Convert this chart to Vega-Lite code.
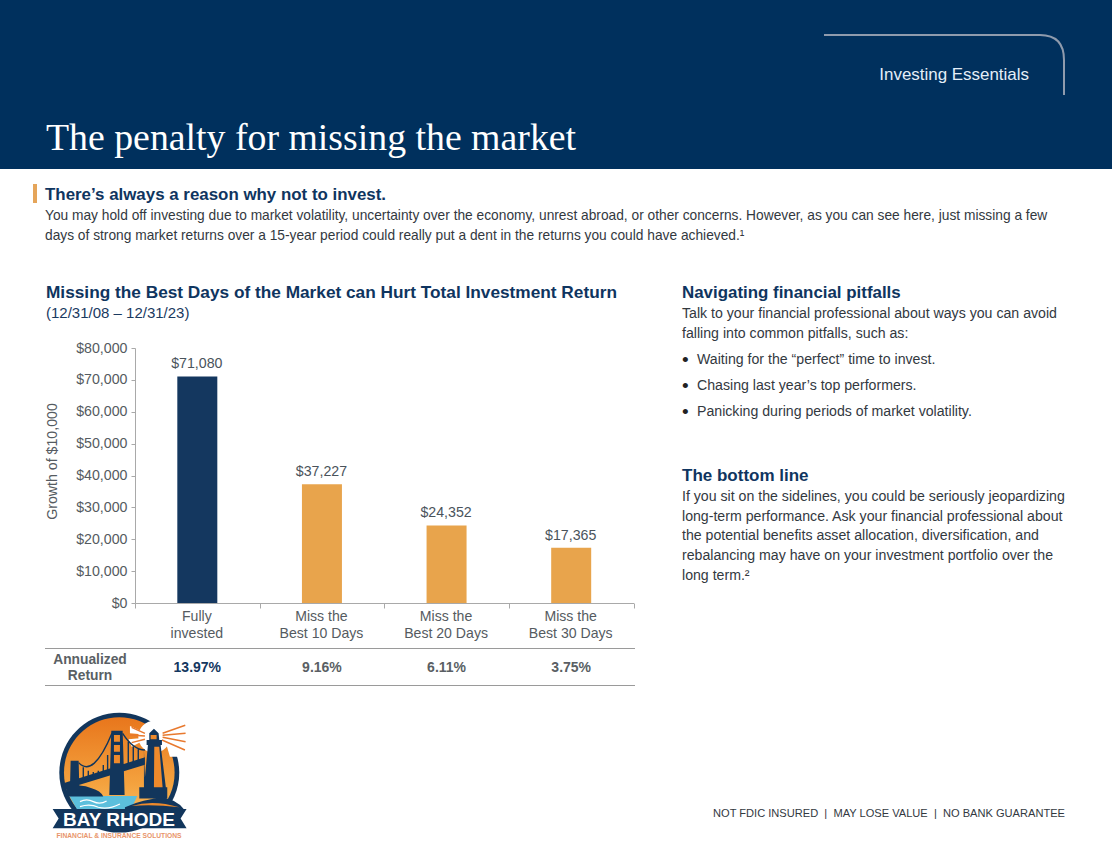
{"$schema":"https://vega.github.io/schema/vega-lite/v6.json","width":1112,"height":859,"autosize":{"type":"none"},"padding":0,"background":"#ffffff","config":{"view":{"stroke":null}},"data":{"values":[{"item":"page"}]},"resolve":{"scale":{"x":"independent","y":"independent","color":"independent"}},"layer":[
{"mark":{"type":"rect","fill":"#00305d"},"encoding":{"x":{"datum":0,"type":"quantitative","scale":{"domain":[0,1],"range":[0,1112]},"axis":null},"x2":{"datum":1},"y":{"datum":0,"type":"quantitative","scale":{"domain":[0,1],"range":[0,169]},"axis":null},"y2":{"datum":1}}},
{"mark":{"type":"point","shape":"M824,35 L1040,35 Q1064,35 1064,60 L1064,95","filled":false,"stroke":"#8f9bad","strokeWidth":2,"size":4,"opacity":1},"encoding":{"x":{"datum":0,"type":"quantitative","scale":{"domain":[0,1],"range":[0,1]},"axis":null},"y":{"datum":0,"type":"quantitative","scale":{"domain":[0,1],"range":[0,1]},"axis":null}}},
{"data":{"values":[{"line":0,"label":"The penalty for missing the market"}]},"mark":{"type":"text","align":"left","baseline":"alphabetic","font":"Liberation Serif","fontSize":37.8,"fill":"#ffffff"},"encoding":{"x":{"datum":0,"type":"quantitative","scale":{"domain":[0,1],"range":[46,47]},"axis":null},"y":{"field":"line","type":"quantitative","scale":{"domain":[0,1],"range":[150,170]},"axis":null},"text":{"field":"label"}}},
{"data":{"values":[{"line":0,"label":"Investing Essentials"}]},"mark":{"type":"text","align":"right","baseline":"alphabetic","font":"Liberation Sans","fontSize":16.95,"fill":"#e4eef8"},"encoding":{"x":{"datum":0,"type":"quantitative","scale":{"domain":[0,1],"range":[1029,1030]},"axis":null},"y":{"field":"line","type":"quantitative","scale":{"domain":[0,1],"range":[80,100]},"axis":null},"text":{"field":"label"}}},
{"mark":{"type":"rect","fill":"#e5a55a"},"encoding":{"x":{"datum":0,"type":"quantitative","scale":{"domain":[0,1],"range":[33,37]},"axis":null},"x2":{"datum":1},"y":{"datum":0,"type":"quantitative","scale":{"domain":[0,1],"range":[184,203]},"axis":null},"y2":{"datum":1}}},
{"data":{"values":[{"line":0,"label":"There’s always a reason why not to invest."}]},"mark":{"type":"text","align":"left","baseline":"alphabetic","font":"Liberation Sans","fontWeight":"bold","fontSize":16.9,"fill":"#0f3560"},"encoding":{"x":{"datum":0,"type":"quantitative","scale":{"domain":[0,1],"range":[45,46]},"axis":null},"y":{"field":"line","type":"quantitative","scale":{"domain":[0,1],"range":[200,220]},"axis":null},"text":{"field":"label"}}},
{"data":{"values":[{"line":0,"label":"You may hold off investing due to market volatility, uncertainty over the economy, unrest abroad, or other concerns. However, as you can see here, just missing a few"},{"line":1,"label":"days of strong market returns over a 15-year period could really put a dent in the returns you could have achieved.¹"}]},"mark":{"type":"text","align":"left","baseline":"alphabetic","font":"Liberation Sans","fontSize":13.75,"fill":"#33393f"},"encoding":{"x":{"datum":0,"type":"quantitative","scale":{"domain":[0,1],"range":[45,46]},"axis":null},"y":{"field":"line","type":"quantitative","scale":{"domain":[0,1],"range":[220,240]},"axis":null},"text":{"field":"label"}}},
{"data":{"values":[{"line":0,"label":"Missing the Best Days of the Market can Hurt Total Investment Return"}]},"mark":{"type":"text","align":"left","baseline":"alphabetic","font":"Liberation Sans","fontWeight":"bold","fontSize":17.25,"fill":"#0f3560"},"encoding":{"x":{"datum":0,"type":"quantitative","scale":{"domain":[0,1],"range":[46,47]},"axis":null},"y":{"field":"line","type":"quantitative","scale":{"domain":[0,1],"range":[298,318]},"axis":null},"text":{"field":"label"}}},
{"data":{"values":[{"line":0,"label":"(12/31/08 – 12/31/23)"}]},"mark":{"type":"text","align":"left","baseline":"alphabetic","font":"Liberation Sans","fontSize":15,"fill":"#1a3a5f"},"encoding":{"x":{"datum":0,"type":"quantitative","scale":{"domain":[0,1],"range":[46,47]},"axis":null},"y":{"field":"line","type":"quantitative","scale":{"domain":[0,1],"range":[318,338]},"axis":null},"text":{"field":"label"}}},
{"data":{"name":"growth","values":[{"category":"Fully|invested","group":"full","value":71080},{"category":"Miss the|Best 10 Days","group":"miss","value":37227},{"category":"Miss the|Best 20 Days","group":"miss","value":24352},{"category":"Miss the|Best 30 Days","group":"miss","value":17365}]},"mark":{"type":"bar","size":40},"encoding":{"x":{"field":"category","type":"nominal","sort":null,"scale":{"type":"band","range":[135,633.5],"paddingInner":0,"paddingOuter":0},"axis":{"orient":"bottom","offset":-256,"title":null,"labelAngle":0,"labelExpr":"split(datum.label,'|')","labelFont":"Liberation Sans","labelFontSize":14.1,"labelColor":"#555b61","labelLineHeight":17,"labelPadding":1,"labelOffset":-1,"domainColor":"#a9a9a9","tickColor":"#a9a9a9","tickSize":5,"tickBand":"extent","grid":false,"labelLimit":200}},"y":{"field":"value","type":"quantitative","scale":{"domain":[0,80000],"range":[603,348],"nice":false},"axis":{"orient":"left","offset":-135,"title":"Growth of $10,000","titleFont":"Liberation Sans","titleFontSize":14.2,"titleFontWeight":"normal","titleColor":"#555b61","titleX":-76,"titleY":461,"format":"$,.0f","values":[0,10000,20000,30000,40000,50000,60000,70000,80000],"labelFont":"Liberation Sans","labelFontSize":14.2,"labelColor":"#555b61","labelPadding":4,"domainColor":"#a9a9a9","tickColor":"#a9a9a9","tickSize":4,"grid":false}},"color":{"field":"group","type":"nominal","scale":{"domain":["full","miss"],"range":["#14375f","#e8a44c"]},"legend":null}}},
{"data":{"name":"growth"},"mark":{"type":"text","baseline":"alphabetic","dy":-8,"dx":-0.5,"font":"Liberation Sans","fontSize":14.2,"fill":"#4a535b"},"encoding":{"x":{"field":"category","type":"nominal","sort":null,"scale":{"type":"band","range":[135,633.5],"paddingInner":0,"paddingOuter":0},"axis":null},"y":{"field":"value","type":"quantitative","scale":{"domain":[0,80000],"range":[603,348],"nice":false},"axis":null},"text":{"field":"value","type":"quantitative","format":"$,.0f"}}},
{"data":{"values":[{"line":0},{"line":1}]},"mark":{"type":"rule","stroke":"#9a9a9a","strokeWidth":1},"encoding":{"x":{"datum":0,"type":"quantitative","scale":{"domain":[0,1],"range":[45,635]},"axis":null},"x2":{"datum":1},"y":{"field":"line","type":"quantitative","scale":{"domain":[0,1],"range":[648.5,685.5]},"axis":null}}},
{"data":{"values":[{"line":0,"label":"Annualized"},{"line":1,"label":"Return"}]},"mark":{"type":"text","align":"center","baseline":"alphabetic","font":"Liberation Sans","fontWeight":"bold","fontSize":13.8,"fill":"#5a5f64"},"encoding":{"x":{"datum":0,"type":"quantitative","scale":{"domain":[0,1],"range":[90,91]},"axis":null},"y":{"field":"line","type":"quantitative","scale":{"domain":[0,1],"range":[664,680]},"axis":null},"text":{"field":"label"}}},
{"data":{"values":[{"category":"Fully|invested","tone":"full","line":0,"annualized":"13.97%"},{"category":"Miss the|Best 10 Days","tone":"miss","line":0,"annualized":"9.16%"},{"category":"Miss the|Best 20 Days","tone":"miss","line":0,"annualized":"6.11%"},{"category":"Miss the|Best 30 Days","tone":"miss","line":0,"annualized":"3.75%"}]},"mark":{"type":"text","baseline":"alphabetic","font":"Liberation Sans","fontWeight":"bold","fontSize":14},"encoding":{"x":{"field":"category","type":"nominal","sort":null,"scale":{"type":"band","range":[135,633.5],"paddingInner":0,"paddingOuter":0},"axis":null},"y":{"field":"line","type":"quantitative","scale":{"domain":[0,1],"range":[672,692]},"axis":null},"text":{"field":"annualized"},"color":{"field":"tone","type":"nominal","scale":{"domain":["full","miss"],"range":["#14375f","#5a5f64"]},"legend":null}}},
{"data":{"values":[{"line":0,"label":"Navigating financial pitfalls"}]},"mark":{"type":"text","align":"left","baseline":"alphabetic","font":"Liberation Sans","fontWeight":"bold","fontSize":16.9,"fill":"#0f3560"},"encoding":{"x":{"datum":0,"type":"quantitative","scale":{"domain":[0,1],"range":[682,683]},"axis":null},"y":{"field":"line","type":"quantitative","scale":{"domain":[0,1],"range":[298,318]},"axis":null},"text":{"field":"label"}}},
{"data":{"values":[{"line":0,"label":"Talk to your financial professional about ways you can avoid"},{"line":1,"label":"falling into common pitfalls, such as:"}]},"mark":{"type":"text","align":"left","baseline":"alphabetic","font":"Liberation Sans","fontSize":14.15,"fill":"#33393f"},"encoding":{"x":{"datum":0,"type":"quantitative","scale":{"domain":[0,1],"range":[682,683]},"axis":null},"y":{"field":"line","type":"quantitative","scale":{"domain":[0,1],"range":[318,338]},"axis":null},"text":{"field":"label"}}},
{"data":{"values":[{"line":0,"label":"Waiting for the “perfect” time to invest."},{"line":1,"label":"Chasing last year’s top performers."},{"line":2,"label":"Panicking during periods of market volatility."}]},"mark":{"type":"text","align":"left","baseline":"alphabetic","font":"Liberation Sans","fontSize":14.15,"fill":"#33393f"},"encoding":{"x":{"datum":0,"type":"quantitative","scale":{"domain":[0,1],"range":[697,698]},"axis":null},"y":{"field":"line","type":"quantitative","scale":{"domain":[0,1],"range":[364,390]},"axis":null},"text":{"field":"label"}}},
{"data":{"values":[{"line":0,"label":"•"},{"line":1,"label":"•"},{"line":2,"label":"•"}]},"mark":{"type":"text","align":"left","baseline":"alphabetic","font":"Liberation Sans","fontSize":19,"fill":"#222222"},"encoding":{"x":{"datum":0,"type":"quantitative","scale":{"domain":[0,1],"range":[682,683]},"axis":null},"y":{"field":"line","type":"quantitative","scale":{"domain":[0,1],"range":[365.5,391.5]},"axis":null},"text":{"field":"label"}}},
{"data":{"values":[{"line":0,"label":"The bottom line"}]},"mark":{"type":"text","align":"left","baseline":"alphabetic","font":"Liberation Sans","fontWeight":"bold","fontSize":17,"fill":"#0f3560"},"encoding":{"x":{"datum":0,"type":"quantitative","scale":{"domain":[0,1],"range":[682,683]},"axis":null},"y":{"field":"line","type":"quantitative","scale":{"domain":[0,1],"range":[481,501]},"axis":null},"text":{"field":"label"}}},
{"data":{"values":[{"line":0,"label":"If you sit on the sidelines, you could be seriously jeopardizing"},{"line":1,"label":"long-term performance. Ask your financial professional about"},{"line":2,"label":"the potential benefits asset allocation, diversification, and"},{"line":3,"label":"rebalancing may have on your investment portfolio over the"},{"line":4,"label":"long term.²"}]},"mark":{"type":"text","align":"left","baseline":"alphabetic","font":"Liberation Sans","fontSize":14.15,"fill":"#33393f"},"encoding":{"x":{"datum":0,"type":"quantitative","scale":{"domain":[0,1],"range":[682,683]},"axis":null},"y":{"field":"line","type":"quantitative","scale":{"domain":[0,1],"range":[501,520.7]},"axis":null},"text":{"field":"label"}}},
{"data":{"values":[{"line":0,"label":"NOT FDIC INSURED\u00a0\u00a0|\u00a0\u00a0MAY LOSE VALUE\u00a0\u00a0|\u00a0\u00a0NO BANK GUARANTEE"}]},"mark":{"type":"text","align":"right","baseline":"alphabetic","font":"Liberation Sans","fontSize":11.1,"fill":"#33393f"},"encoding":{"x":{"datum":0,"type":"quantitative","scale":{"domain":[0,1],"range":[1065,1066]},"axis":null},"y":{"field":"line","type":"quantitative","scale":{"domain":[0,1],"range":[817,837]},"axis":null},"text":{"field":"label"}}},
{"mark":{"type":"point","shape":"M88,218 A180,180 0 1 1 448,218 A180,180 0 1 1 88,218 Z","filled":true,"fill":"#12365c","size":0.444,"opacity":1},"encoding":{"x":{"datum":0,"type":"quantitative","scale":{"domain":[0,1],"range":[30,31]},"axis":null},"y":{"datum":0,"type":"quantitative","scale":{"domain":[0,1],"range":[700,701]},"axis":null}}},
{"mark":{"type":"point","shape":"M102,218 A166,166 0 1 1 434,218 A166,166 0 1 1 102,218 Z","filled":true,"size":0.444,"opacity":1,"fill":{"gradient":"linear","x1":0,"y1":0,"x2":0,"y2":1,"stops":[{"offset":0,"color":"#e8761c"},{"offset":0.6,"color":"#f4a23e"},{"offset":1,"color":"#f9c46a"}]}},"encoding":{"x":{"datum":0,"type":"quantitative","scale":{"domain":[0,1],"range":[30,31]},"axis":null},"y":{"datum":0,"type":"quantitative","scale":{"domain":[0,1],"range":[700,701]},"axis":null}}},
{"mark":{"type":"point","shape":"M325,110 A48,48 0 1 1 421,110 A48,48 0 1 1 325,110 Z M300,78 L360,105 L300,100 Z M296,118 L360,112 L305,140 Z M385,50 L470,50 L470,170 L420,170 Z","filled":true,"fill":"#ffffff","size":0.444,"opacity":1},"encoding":{"x":{"datum":0,"type":"quantitative","scale":{"domain":[0,1],"range":[30,31]},"axis":null},"y":{"datum":0,"type":"quantitative","scale":{"domain":[0,1],"range":[700,701]},"axis":null}}},
{"mark":{"type":"point","shape":"M398,100 L466,76 M398,106 L467,100 M398,112 L467,125 M396,120 L465,150 M345,100 L305,82 M345,108 L300,105 M345,118 L305,128","filled":false,"stroke":"#e8792e","strokeWidth":1.5,"size":0.444,"opacity":1},"encoding":{"x":{"datum":0,"type":"quantitative","scale":{"domain":[0,1],"range":[30,31]},"axis":null},"y":{"datum":0,"type":"quantitative","scale":{"domain":[0,1],"range":[700,701]},"axis":null}}},
{"mark":{"type":"point","shape":"M118,288 L322,288 L300,335 L145,335 Z","filled":true,"fill":"#5cbfdc","size":0.444,"opacity":1},"encoding":{"x":{"datum":0,"type":"quantitative","scale":{"domain":[0,1],"range":[30,31]},"axis":null},"y":{"datum":0,"type":"quantitative","scale":{"domain":[0,1],"range":[700,701]},"axis":null}}},
{"mark":{"type":"point","shape":"M150,305 Q170,295 190,305 Q210,315 230,303 M150,320 Q180,310 205,322 Q235,330 270,312","filled":false,"stroke":"#ffffff","strokeWidth":1.2,"size":0.444,"opacity":1},"encoding":{"x":{"datum":0,"type":"quantitative","scale":{"domain":[0,1],"range":[30,31]},"axis":null},"y":{"datum":0,"type":"quantitative","scale":{"domain":[0,1],"range":[700,701]},"axis":null}}},
{"mark":{"type":"point","shape":"M108,265 Q150,248 185,265 Q212,272 220,290 L112,290 Z M105,248 L345,172 L345,194 L105,268 Z M244,92 L278,92 L284,285 L238,285 Z M122,182 L146,182 L148,262 L120,262 Z M342,150 L346,262 L342,262 Z M354,135 L392,135 L408,264 L342,264 Z M350,120 L396,120 L396,135 L350,135 Z M372,86 L386,100 L388,120 L358,120 L358,100 Z M328,262 L412,262 L412,296 L328,296 Z M285,322 Q340,296 400,294 Q440,298 462,328 L285,328 Z","filled":true,"fill":"#12365c","size":0.444,"opacity":1},"encoding":{"x":{"datum":0,"type":"quantitative","scale":{"domain":[0,1],"range":[30,31]},"axis":null},"y":{"datum":0,"type":"quantitative","scale":{"domain":[0,1],"range":[700,701]},"axis":null}}},
{"mark":{"type":"point","shape":"M146,188 Q190,235 246,100 M278,100 Q310,150 345,150 M160,202 V240 M175,212 V236 M190,216 V230 M205,212 V226 M220,195 V222 M233,165 V216 M295,125 V200 M310,140 V195 M325,148 V190","filled":false,"stroke":"#12365c","strokeWidth":1.4,"size":0.444,"opacity":1},"encoding":{"x":{"datum":0,"type":"quantitative","scale":{"domain":[0,1],"range":[30,31]},"axis":null},"y":{"datum":0,"type":"quantitative","scale":{"domain":[0,1],"range":[700,701]},"axis":null}}},
{"mark":{"type":"point","shape":"M252,105 L270,105 L270,125 L252,125 Z M252,135 L270,135 L270,155 L252,155 Z M252,165 L270,165 L270,190 L252,190 Z M373,140 L388,140 L398,262 L372,262 Z M362,105 L380,105 L380,118 L362,118 Z M305,318 Q370,298 448,322 Q370,312 305,318 Z","filled":true,"fill":"#ee8a2c","size":0.444,"opacity":1},"encoding":{"x":{"datum":0,"type":"quantitative","scale":{"domain":[0,1],"range":[30,31]},"axis":null},"y":{"datum":0,"type":"quantitative","scale":{"domain":[0,1],"range":[700,701]},"axis":null}}},
{"mark":{"type":"point","shape":"M68,327 L470,327 L452,356 L470,385 L68,385 L86,356 Z","filled":true,"fill":"#12365c","size":0.444,"opacity":1},"encoding":{"x":{"datum":0,"type":"quantitative","scale":{"domain":[0,1],"range":[30,31]},"axis":null},"y":{"datum":0,"type":"quantitative","scale":{"domain":[0,1],"range":[700,701]},"axis":null}}},
{"data":{"values":[{"line":0,"label":"BAY RHODE"}]},"mark":{"type":"text","align":"center","baseline":"alphabetic","font":"Liberation Sans","fontWeight":"bold","fontSize":19,"fill":"#ffffff"},"encoding":{"x":{"datum":0,"type":"quantitative","scale":{"domain":[0,1],"range":[119,120]},"axis":null},"y":{"field":"line","type":"quantitative","scale":{"domain":[0,1],"range":[826,846]},"axis":null},"text":{"field":"label"}}},
{"data":{"values":[{"line":0,"label":"FINANCIAL & INSURANCE SOLUTIONS"}]},"mark":{"type":"text","align":"center","baseline":"alphabetic","font":"Liberation Sans","fontWeight":"bold","fontSize":6.7,"fill":"#e8956a"},"encoding":{"x":{"datum":0,"type":"quantitative","scale":{"domain":[0,1],"range":[119,120]},"axis":null},"y":{"field":"line","type":"quantitative","scale":{"domain":[0,1],"range":[838,858]},"axis":null},"text":{"field":"label"}}}
]}
